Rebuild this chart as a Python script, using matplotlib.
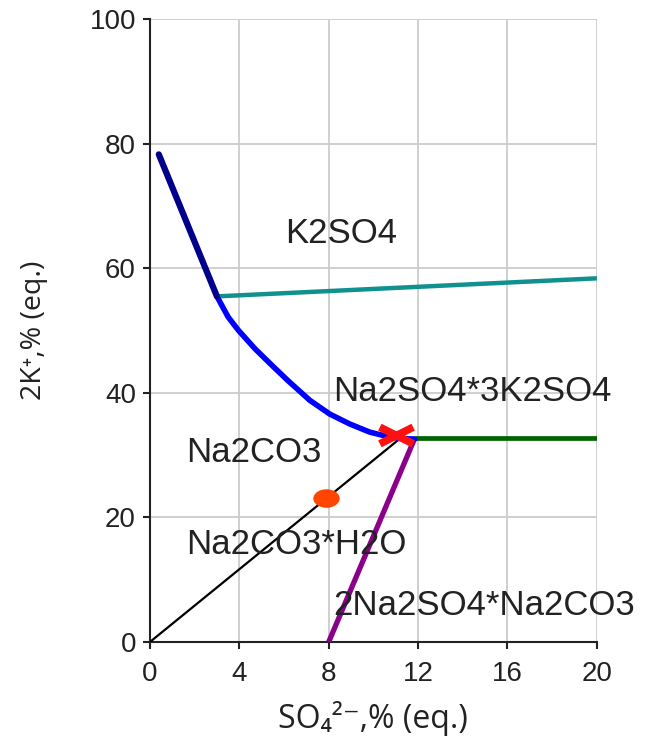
import matplotlib
matplotlib.use("Agg")
import matplotlib.pyplot as plt
from matplotlib.path import Path
from matplotlib.transforms import Affine2D

# ---- data ----
navy_x = [0.4, 3.0]
navy_y = [78.3, 55.5]

teal_x = [3.0, 20.0]
teal_y = [55.5, 58.4]

blue_x = [3.0, 3.5, 3.95, 4.7, 5.44, 6.2, 7.16, 8.05, 8.95, 9.84, 10.74, 11.3, 11.85]
blue_y = [55.5, 52.2, 50.1, 47.1, 44.5, 41.9, 38.8, 36.6, 35.0, 33.7, 32.9, 32.65, 32.6]

green_x = [11.85, 20.0]
green_y = [32.7, 32.7]

purple_x = [8.0, 11.85]
purple_y = [0.0, 32.7]

black_x = [0.0, 11.2]
black_y = [0.0, 32.7]

cross_x = [11.0]
cross_y = [33.2]

dot_x = [7.9]
dot_y = [23.2]

labels = ["K2SO4", "Na2SO4*3K2SO4", "Na2CO3", "Na2CO3*H2O", "2Na2SO4*Na2CO3"]
label_x = [6.04, 8.19, 1.61, 1.61, 8.19]
label_y = [65.6, 40.3, 30.5, 15.6, 5.8]

xticks = [0, 4, 8, 12, 16, 20]
yticks = [0, 20, 40, 60, 80, 100]

# ---- figure ----
fig = plt.figure(figsize=(6.46, 7.40), dpi=100)
ax = fig.add_axes([0.232, 0.1324, 0.692, 0.8416])

ax.set_xlim(0, 20)
ax.set_ylim(0, 100)
ax.set_xticks(xticks)
ax.set_yticks(yticks)
ax.grid(True, color="#cccccc", linewidth=1.3)
ax.set_axisbelow(True)
for s in ["top", "right"]:
    ax.spines[s].set_visible(False)
for s in ["left", "bottom"]:
    ax.spines[s].set_linewidth(1.5)
    ax.spines[s].set_color("#222222")
ax.tick_params(direction="out", length=5, width=1.5, color="#222222",
               labelsize=20, pad=5)
ax.tick_params(axis="x", pad=9)
for lab in ax.get_xticklabels() + ax.get_yticklabels():
    lab.set_fontfamily("Liberation Sans")
    lab.set_color("#222222")

ax.plot(black_x, black_y, color="black", linewidth=1.6, zorder=3)
ax.plot(teal_x, teal_y, color="#119090", linewidth=3.2, solid_capstyle="butt", zorder=3)
ax.plot(green_x, green_y, color="#006400", linewidth=3.4, solid_capstyle="butt", zorder=3)
ax.plot(purple_x, purple_y, color="#8B008B", linewidth=3.8, solid_capstyle="butt", zorder=3)
ax.plot(blue_x, blue_y, color="#0000FF", linewidth=4.0, solid_capstyle="round",
        solid_joinstyle="round", zorder=4)
ax.plot(navy_x, navy_y, color="#00008B", linewidth=4.5, solid_capstyle="round", zorder=4)

# wide X marker
xpath = Path([(-1, -0.5), (1, 0.5), (-1, 0.5), (1, -0.5)],
             [Path.MOVETO, Path.LINETO, Path.MOVETO, Path.LINETO])
ax.plot(cross_x, cross_y, linestyle="none", marker=xpath, markersize=24,
        markeredgewidth=5.5, color="#FF1010", zorder=5)

# wide ellipse marker
epath = Affine2D().scale(1.0, 0.7).transform_path(Path.unit_circle())
ax.plot(dot_x, dot_y, linestyle="none", marker=epath, markersize=19,
        color="#FF4500", markeredgewidth=0, zorder=5)

for t, x, y in zip(labels, label_x, label_y):
    ax.text(x, y, t, fontsize=25, family="Liberation Sans", color="#222222",
            ha="left", va="center", zorder=6)

ax.set_xlabel("SO\u2084\u00b2\u207b,% (eq.)", fontsize=23,
              family=["Open Sans", "DejaVu Sans"], color="#222222", labelpad=10)
ax.set_ylabel("2K\u207a,% (eq.)", fontsize=20.5,
              family=["Open Sans", "DejaVu Sans"], color="#222222", labelpad=30)

fig.savefig("out.png", dpi=100)
